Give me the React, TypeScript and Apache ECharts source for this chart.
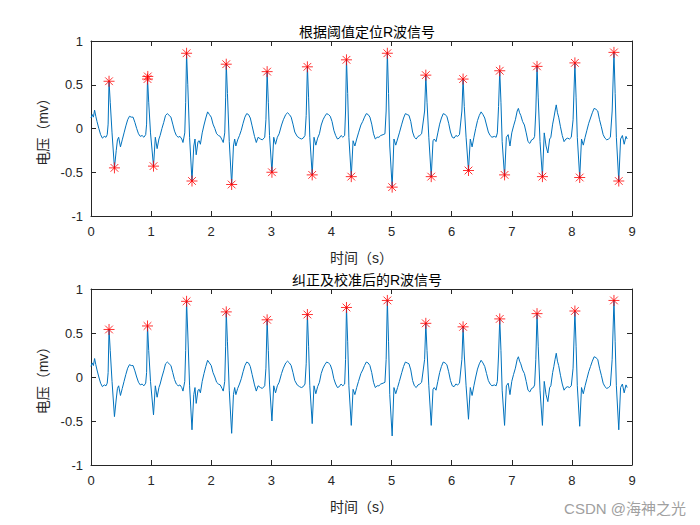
import React, { useEffect, useRef } from "react";
import * as echarts from "echarts";

// ECG signal (time s, voltage mv)
const ecgSignal: [number, number][] = [
  [0.0, 0.12], [0.02, 0.16], [0.04, 0.13], [0.06, 0.21], [0.08, 0.14], [0.1, 0.08], [0.13, 0.0], [0.16, -0.07], [0.19, -0.11], [0.22, -0.09], [0.25, -0.1], [0.27, -0.07], [0.285, 0.05],
  [0.3, 0.54], [0.32, 0.3], [0.35, -0.05], [0.39, -0.45], [0.42, -0.25], [0.44, -0.13], [0.46, -0.1], [0.49, -0.21], [0.52, -0.13], [0.55, -0.05], [0.58, 0.03], [0.61, 0.1], [0.64, 0.14], [0.67, 0.13], [0.7, 0.13], [0.73, 0.07], [0.76, 0.0], [0.79, -0.06], [0.82, -0.09], [0.85, -0.08], [0.88, -0.1], [0.91, -0.07], [0.925, 0.05],
  [0.94, 0.58], [0.96, 0.3], [0.99, -0.05], [1.04, -0.43], [1.07, -0.1], [1.1, -0.23], [1.13, -0.12], [1.15, -0.08], [1.18, 0.0], [1.21, 0.07], [1.24, 0.15], [1.27, 0.17], [1.3, 0.15], [1.33, 0.13], [1.36, 0.05], [1.39, -0.03], [1.42, -0.08], [1.45, -0.1], [1.48, -0.09], [1.51, -0.12], [1.53, -0.16], [1.56, -0.05], [1.575, 0.3],
  [1.59, 0.86], [1.61, 0.5], [1.64, -0.1], [1.68, -0.6], [1.71, -0.2], [1.73, -0.12], [1.75, -0.3], [1.78, -0.15], [1.8, -0.14], [1.82, -0.18], [1.85, -0.05], [1.88, 0.04], [1.91, 0.12], [1.94, 0.19], [1.97, 0.16], [2.0, 0.13], [2.03, 0.05], [2.06, 0.0], [2.09, -0.06], [2.12, -0.08], [2.15, -0.09], [2.18, -0.13], [2.2, -0.16], [2.225, -0.05], [2.24, 0.35],
  [2.25, 0.74], [2.27, 0.4], [2.3, -0.15], [2.34, -0.64], [2.37, -0.2], [2.39, -0.12], [2.41, -0.2], [2.44, -0.13], [2.47, -0.08], [2.5, -0.02], [2.53, 0.06], [2.56, 0.13], [2.59, 0.17], [2.62, 0.16], [2.65, 0.12], [2.68, 0.03], [2.72, -0.09], [2.75, -0.16], [2.78, -0.1], [2.82, -0.12], [2.85, -0.13], [2.89, -0.1], [2.91, 0.1],
  [2.93, 0.65], [2.95, 0.3], [2.97, -0.08], [3.01, -0.5], [3.04, -0.1], [3.07, -0.18], [3.1, -0.1], [3.13, -0.06], [3.17, 0.04], [3.2, 0.1], [3.24, 0.16], [3.27, 0.18], [3.3, 0.16], [3.33, 0.13], [3.36, 0.05], [3.39, -0.04], [3.43, -0.09], [3.47, -0.11], [3.5, -0.12], [3.53, -0.11], [3.56, -0.08], [3.58, 0.15],
  [3.6, 0.71], [3.62, 0.35], [3.64, -0.1], [3.68, -0.53], [3.71, -0.1], [3.74, -0.19], [3.77, -0.11], [3.8, -0.06], [3.83, 0.04], [3.86, 0.1], [3.89, 0.14], [3.92, 0.17], [3.95, 0.16], [3.98, 0.14], [4.01, 0.08], [4.04, -0.02], [4.07, -0.08], [4.1, -0.12], [4.13, -0.11], [4.16, -0.08], [4.19, -0.1], [4.22, -0.08], [4.235, 0.2],
  [4.25, 0.79], [4.27, 0.4], [4.29, -0.1], [4.33, -0.55], [4.36, -0.14], [4.39, -0.2], [4.42, -0.12], [4.45, -0.05], [4.49, 0.04], [4.52, 0.08], [4.55, 0.13], [4.58, 0.17], [4.61, 0.16], [4.64, 0.13], [4.67, 0.05], [4.7, -0.06], [4.73, -0.12], [4.76, -0.1], [4.79, -0.1], [4.82, -0.08], [4.86, -0.07], [4.89, -0.06], [4.91, 0.2],
  [4.93, 0.87], [4.95, 0.4], [4.97, -0.2], [5.01, -0.67], [5.04, -0.12], [5.07, -0.19], [5.1, -0.12], [5.13, -0.05], [5.17, 0.05], [5.2, 0.12], [5.23, 0.17], [5.26, 0.16], [5.29, 0.15], [5.32, 0.08], [5.35, -0.04], [5.38, -0.1], [5.41, -0.12], [5.44, -0.09], [5.47, -0.08], [5.5, -0.06], [5.55, 0.2],
  [5.57, 0.61], [5.59, 0.3], [5.62, -0.1], [5.66, -0.55], [5.69, -0.14], [5.71, -0.12], [5.74, -0.15], [5.77, -0.05], [5.8, 0.05], [5.83, 0.12], [5.86, 0.17], [5.89, 0.16], [5.92, 0.14], [5.95, 0.06], [5.98, -0.04], [6.01, -0.1], [6.04, -0.11], [6.07, -0.08], [6.1, -0.09], [6.13, -0.07], [6.17, 0.2],
  [6.19, 0.57], [6.21, 0.25], [6.24, -0.1], [6.28, -0.48], [6.31, -0.12], [6.34, -0.21], [6.37, -0.1], [6.4, 0.0], [6.43, 0.09], [6.46, 0.15], [6.49, 0.19], [6.52, 0.16], [6.55, 0.12], [6.58, 0.04], [6.61, -0.04], [6.64, -0.08], [6.67, -0.1], [6.71, -0.09], [6.74, -0.1], [6.76, -0.05], [6.78, 0.25],
  [6.8, 0.66], [6.82, 0.3], [6.84, -0.15], [6.88, -0.55], [6.91, -0.1], [6.94, -0.07], [6.97, -0.2], [7.0, -0.05], [7.03, 0.03], [7.06, 0.1], [7.09, 0.2], [7.11, 0.23], [7.13, 0.18], [7.15, 0.15], [7.18, 0.08], [7.21, 0.04], [7.24, -0.05], [7.27, -0.15], [7.3, -0.17], [7.33, -0.13], [7.36, -0.12], [7.38, -0.09], [7.4, 0.2],
  [7.42, 0.72], [7.44, 0.35], [7.47, -0.15], [7.51, -0.55], [7.54, -0.05], [7.57, -0.2], [7.6, -0.28], [7.63, -0.12], [7.65, -0.1], [7.68, 0.05], [7.7, 0.12], [7.72, 0.2], [7.74, 0.27], [7.76, 0.18], [7.78, 0.13], [7.81, 0.02], [7.84, -0.08], [7.87, -0.15], [7.9, -0.12], [7.93, -0.11], [7.96, -0.12], [7.99, -0.1], [8.02, 0.1],
  [8.05, 0.75], [8.07, 0.35], [8.09, -0.1], [8.13, -0.56], [8.16, -0.12], [8.19, -0.19], [8.22, -0.1], [8.25, -0.02], [8.28, 0.06], [8.31, 0.12], [8.34, 0.18], [8.37, 0.23], [8.4, 0.22], [8.43, 0.2], [8.46, 0.1], [8.49, 0.02], [8.52, -0.07], [8.55, -0.11], [8.58, -0.13], [8.61, -0.12], [8.64, -0.1], [8.67, 0.2],
  [8.7, 0.87], [8.72, 0.4], [8.74, -0.1], [8.78, -0.6], [8.81, -0.12], [8.84, -0.08], [8.87, -0.18], [8.9, -0.09], [8.92, -0.12],
];

// R peaks found by threshold (top plot, includes a duplicate detection near 0.95 s)
const rPeaksTop: [number, number][] = [
  [0.3, 0.54], [0.94, 0.565], [0.945, 0.595], [1.59, 0.86], [2.25, 0.735], [2.93, 0.65], [3.6, 0.705],
  [4.25, 0.785], [4.93, 0.86], [5.57, 0.61], [6.19, 0.565], [6.8, 0.66], [7.42, 0.71], [8.05, 0.75], [8.7, 0.87],
];

// S troughs found by threshold (top plot)
const sPeaksTop: [number, number][] = [
  [0.39, -0.45], [1.04, -0.43], [1.68, -0.6], [2.34, -0.64], [3.01, -0.5], [3.68, -0.53], [4.33, -0.55],
  [5.01, -0.67], [5.66, -0.55], [6.28, -0.48], [6.88, -0.53], [7.51, -0.55], [8.13, -0.56], [8.78, -0.6],
];

// Corrected R peaks (bottom plot)
const rPeaksBottom: [number, number][] = [
  [0.3, 0.54], [0.94, 0.58], [1.59, 0.86], [2.25, 0.74], [2.93, 0.65], [3.6, 0.71], [4.25, 0.79],
  [4.93, 0.87], [5.57, 0.61], [6.19, 0.57], [6.8, 0.66], [7.42, 0.72], [8.05, 0.75], [8.7, 0.87],
];

const titles = ["根据阈值定位R波信号", "纠正及校准后的R波信号"];
const xAxisName = "时间（s）";
const yAxisName = "电压（mv）";
const watermark = "CSDN @海神之光";

const FONT = "'Liberation Sans', 'Noto Sans CJK SC', sans-serif";
const AXIS = "#262626";
const STAR = "path://M5,0L5,10M0,5L10,5M1.5,1.5L8.5,8.5M1.5,8.5L8.5,1.5";

export default function App() {
  const ref = useRef<HTMLDivElement>(null);
  useEffect(() => {
    if (!ref.current) return;
    const chart = echarts.init(ref.current, undefined, { renderer: "svg" });
    const grids = [
      { left: 91, top: 41, width: 541, height: 175 },
      { left: 91, top: 289, width: 541, height: 176 },
    ];
    const xAxes: any[] = [];
    const yAxes: any[] = [];
    grids.forEach((_, i) => {
      xAxes.push({
        type: "value", gridIndex: i, min: 0, max: 9, interval: 1, position: "bottom",
        name: xAxisName, nameLocation: "middle", nameGap: 35,
        nameTextStyle: { color: AXIS, fontSize: 14, fontFamily: FONT },
        axisLine: { show: true, onZero: false, lineStyle: { color: AXIS, width: 1 } },
        axisTick: { show: true, inside: true, length: 5, lineStyle: { color: AXIS } },
        axisLabel: { color: AXIS, fontSize: 13, fontFamily: FONT, margin: 9 },
        splitLine: { show: false },
      });
      xAxes.push({
        type: "value", gridIndex: i, min: 0, max: 9, interval: 1, position: "top",
        axisLine: { show: true, onZero: false, lineStyle: { color: AXIS, width: 1 } },
        axisTick: { show: true, inside: true, length: 5, lineStyle: { color: AXIS } },
        axisLabel: { show: false },
        splitLine: { show: false },
      });
      yAxes.push({
        type: "value", gridIndex: i, min: -1, max: 1, interval: 0.5, position: "left",
        name: yAxisName, nameLocation: "middle", nameGap: 38,
        nameTextStyle: { color: AXIS, fontSize: 14, fontFamily: FONT },
        axisLine: { show: true, onZero: false, lineStyle: { color: AXIS, width: 1 } },
        axisTick: { show: true, inside: true, length: 5, lineStyle: { color: AXIS } },
        axisLabel: { color: AXIS, fontSize: 13, fontFamily: FONT, margin: 8 },
        splitLine: { show: false },
      });
      yAxes.push({
        type: "value", gridIndex: i, min: -1, max: 1, interval: 0.5, position: "right",
        axisLine: { show: true, onZero: false, lineStyle: { color: AXIS, width: 1 } },
        axisTick: { show: true, inside: true, length: 5, lineStyle: { color: AXIS } },
        axisLabel: { show: false },
        splitLine: { show: false },
      });
    });
    const starSeries = (data: [number, number][], i: number) => ({
      type: "scatter", xAxisIndex: i * 2, yAxisIndex: i * 2, data,
      symbol: STAR, symbolSize: 11,
      itemStyle: { color: "transparent", borderColor: "#ff0000", borderWidth: 1 },
      z: 5,
    });
    const lineSeries = (i: number) => ({
      type: "line", xAxisIndex: i * 2, yAxisIndex: i * 2, data: ecgSignal,
      showSymbol: false, symbol: "none",
      lineStyle: { color: "#0072BD", width: 1 },
      z: 3,
    });
    chart.setOption({
      animation: false,
      backgroundColor: "#ffffff",
      title: [
        { text: titles[0], left: 362, top: 20, textAlign: "center", textStyle: { color: "#000", fontSize: 14, fontWeight: "normal", fontFamily: FONT } },
        { text: titles[1], left: 362, top: 268, textAlign: "center", textStyle: { color: "#000", fontSize: 14, fontWeight: "normal", fontFamily: FONT } },
      ],
      grid: grids,
      xAxis: xAxes,
      yAxis: yAxes,
      series: [
        lineSeries(0),
        starSeries(rPeaksTop, 0),
        starSeries(sPeaksTop, 0),
        lineSeries(1),
        starSeries(rPeaksBottom, 1),
      ],
      graphic: [
        {
          type: "text", right: 14, top: 501,
          style: { text: watermark, fill: "#a0a0a0", fontSize: 15, fontFamily: FONT },
        },
      ],
    });
    return () => chart.dispose();
  }, []);
  return <div ref={ref} style={{ position: "fixed", left: 0, top: 0, width: 700, height: 525 }} />;
}
